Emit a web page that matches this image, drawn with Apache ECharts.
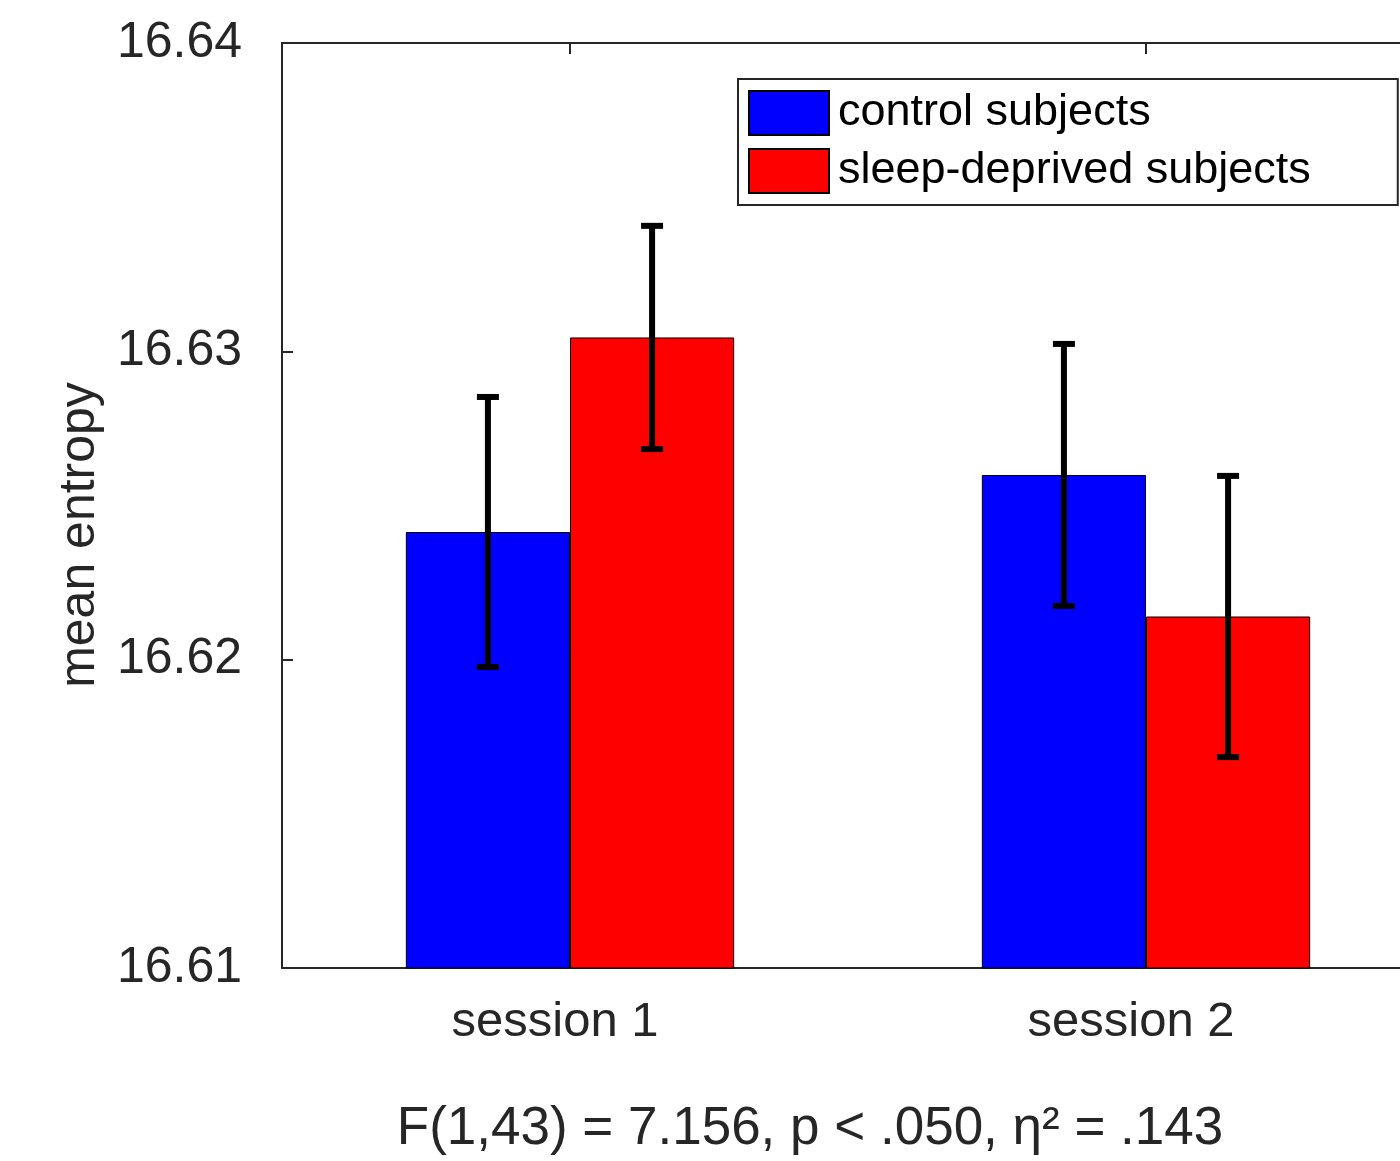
<!DOCTYPE html>
<html>
<head>
<meta charset="utf-8">
<script src="https://cdn.jsdelivr.net/npm/echarts@6/dist/echarts.min.js"></script>
<style>html,body{margin:0;padding:0;background:#fff;overflow:hidden;}#c{width:1436px;height:1161px;}</style>
</head>
<body>
<div id="c"></div>
<script>
const categories = ['session 1', 'session 2'];
const seriesNames = ['control subjects', 'sleep-deprived subjects'];
const controlMean = [16.62414, 16.62599];
const controlErr = [0.00438, 0.00425];
const sleepMean = [16.63045, 16.62140];
const sleepErr = [0.00362, 0.00456];
const yMin = 16.61, yMax = 16.64, yStep = 0.01;
const statText = 'F(1,43) = 7.156, p < .050, η² = .143';
const yName = 'mean entropy';

const FONT = '"Liberation Sans", Arial, Helvetica, sans-serif';
const TXT = '#262626';
const barFrac = 0.285;

function errData(mean, err) {
  return mean.map((m, i) => [i, m - err[i], m + err[i]]);
}
function errRender(sign) {
  return function (params, api) {
    const x = api.value(0);
    const band = api.size([1, 0])[0];
    const off = sign * band * barFrac / 2;
    const lo = api.coord([x, api.value(1)]);
    const hi = api.coord([x, api.value(2)]);
    const cx = lo[0] + off;
    const cw = 11;
    const st = { stroke: '#000', lineWidth: 6 };
    return {
      type: 'group',
      children: [
        { type: 'line', shape: { x1: cx, y1: hi[1], x2: cx, y2: lo[1] }, style: st },
        { type: 'line', shape: { x1: cx - cw, y1: hi[1], x2: cx + cw, y2: hi[1] }, style: st },
        { type: 'line', shape: { x1: cx - cw, y1: lo[1], x2: cx + cw, y2: lo[1] }, style: st }
      ]
    };
  };
}

const chart = echarts.init(document.getElementById('c'), null, { renderer: 'canvas' });
chart.setOption({
  backgroundColor: '#fff',
  animation: false,
  grid: { left: 282, top: 43, width: 1152, height: 925, containLabel: false },
  legend: {
    data: seriesNames,
    orient: 'vertical',
    left: 738, top: 79,
    padding: [11, 87, 11, 10],
    itemGap: 12,
    itemWidth: 80, itemHeight: 44,
    icon: 'rect',
    borderColor: TXT, borderWidth: 2,
    backgroundColor: '#fff',
    textStyle: { fontFamily: FONT, fontSize: 45, lineHeight: 44, color: '#000', padding: [0, 0, 0, 4] }
  },
  xAxis: [{
    type: 'category', data: categories, position: 'bottom',
    axisLine: { lineStyle: { color: TXT, width: 2 } },
    axisTick: { show: true, inside: true, alignWithLabel: true, length: 11, lineStyle: { color: TXT, width: 2 } },
    axisLabel: { fontFamily: FONT, fontSize: 49, color: TXT, margin: 30, padding: [0, 30, 0, 0] },
    splitLine: { show: false }
  }, {
    type: 'category', data: categories, position: 'top',
    axisLine: { show: true, lineStyle: { color: TXT, width: 2 } },
    axisTick: { show: true, inside: true, alignWithLabel: true, length: 11, lineStyle: { color: TXT, width: 2 } },
    axisLabel: { show: false }
  }],
  yAxis: [{
    type: 'value', min: yMin, max: yMax, interval: yStep,
    axisLine: { show: true, lineStyle: { color: TXT, width: 2 } },
    axisTick: { show: true, inside: true, length: 11, lineStyle: { color: TXT, width: 2 } },
    axisLabel: { fontFamily: FONT, fontSize: 50, color: TXT, margin: 40, formatter: v => v.toFixed(2) },
    splitLine: { show: false }
  }],
  series: [{
    name: seriesNames[0], type: 'bar', data: controlMean,
    barWidth: (barFrac * 100) + '%', barGap: '0%',
    itemStyle: { color: '#0000ff', borderColor: '#000', borderWidth: 1 }
  }, {
    name: seriesNames[1], type: 'bar', data: sleepMean,
    barWidth: (barFrac * 100) + '%', barGap: '0%',
    itemStyle: { color: '#ff0000', borderColor: '#000', borderWidth: 1 }
  }, {
    name: 'err-control', type: 'custom', data: errData(controlMean, controlErr),
    renderItem: errRender(-1), z: 10
  }, {
    name: 'err-sleep', type: 'custom', data: errData(sleepMean, sleepErr),
    renderItem: errRender(1), z: 10
  }],
  graphic: [{
    type: 'text', x: 80, y: 535, rotation: Math.PI / 2,
    style: { text: yName, font: '50px ' + FONT, fill: TXT, textAlign: 'center', textVerticalAlign: 'middle' }
  }, {
    type: 'text', x: 810, y: 1129,
    style: { text: statText, font: '53px ' + FONT, fill: TXT, textAlign: 'center', textVerticalAlign: 'middle' }
  }]
});
</script>
</body>
</html>
